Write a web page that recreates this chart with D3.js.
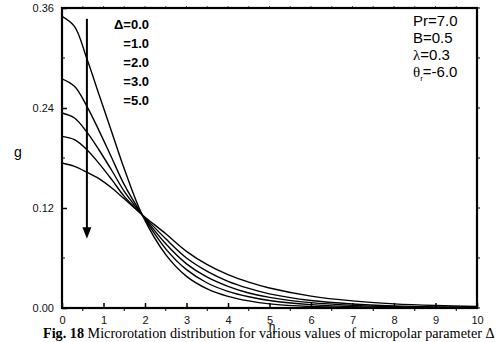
<!DOCTYPE html>
<html>
<head>
<meta charset="utf-8">
<script src="https://cdn.jsdelivr.net/npm/d3@7"></script>
<style>
  body { margin: 0; background: white; }
  svg { display: block; }
  text { font-family: Arial, "Liberation Sans", sans-serif; }
</style>
</head>
<body>
<div id="chart"></div>
<script>
// eta values
var eta = [0, 0.3, 0.6, 0.9, 1.2, 1.5, 1.93, 2.5, 3, 3.5, 4, 4.5, 5, 6, 7, 8, 9, 10];

// g for each Delta
var g_d0 = [0.350, 0.338, 0.299, 0.255, 0.211, 0.167, 0.112, 0.064, 0.038, 0.023, 0.014, 0.0085, 0.005, 0.0018, 0.0006, 0.0002, 0.0001, 0];
var g_d1 = [0.275, 0.266, 0.242, 0.212, 0.180, 0.148, 0.112, 0.071, 0.046, 0.030, 0.020, 0.0135, 0.009, 0.004, 0.0017, 0.0007, 0.0003, 0.0001];
var g_d2 = [0.234, 0.228, 0.211, 0.189, 0.165, 0.140, 0.112, 0.077, 0.053, 0.037, 0.026, 0.018, 0.0128, 0.0064, 0.0032, 0.0016, 0.0008, 0.0004];
var g_d3 = [0.206, 0.202, 0.190, 0.173, 0.154, 0.134, 0.112, 0.083, 0.060, 0.044, 0.032, 0.0235, 0.017, 0.009, 0.0048, 0.0025, 0.0013, 0.0007];
var g_d5 = [0.174, 0.170, 0.163, 0.155, 0.144, 0.131, 0.112, 0.089, 0.068, 0.052, 0.040, 0.031, 0.024, 0.0143, 0.0085, 0.005, 0.003, 0.0018];

var series = [g_d0, g_d1, g_d2, g_d3, g_d5];
var legend_labels = ["\u0394=0.0", "=1.0", "=2.0", "=3.0", "=5.0"];

var x_ticks = d3.range(0, 11);
var x_minor = d3.range(0.5, 10, 1);
var y_ticks = [0, 0.12, 0.24, 0.36];
var y_minor = [0.06, 0.18, 0.30];

var margin = {top: 8, right: 26, bottom: 34, left: 62};
var width = 415, height = 300;

var svg = d3.select("#chart")
  .append("svg")
  .attr("width", 503)
  .attr("height", 342)
  .style("background", "white");

var g = svg.append("g")
  .attr("transform", "translate(" + margin.left + "," + margin.top + ")");

var xscale = d3.scaleLinear().domain([0, 10]).range([0, width]);
var yscale = d3.scaleLinear().domain([0, 0.36]).range([height, 0]);

// bottom axis, major ticks pointing inside
var xAxis = g.append("g")
  .attr("transform", "translate(0," + height + ")")
  .call(d3.axisBottom(xscale).tickValues(x_ticks).tickSizeInner(-5).tickSizeOuter(0).tickPadding(8).tickFormat(d3.format("d")));
xAxis.select(".domain").remove();
xAxis.selectAll("line").attr("stroke-width", 1.5);
xAxis.selectAll("text").style("font-size", "11px").attr("fill", "#111");

g.append("g").selectAll("line")
  .data(x_minor).enter().append("line")
  .attr("x1", d => xscale(d)).attr("x2", d => xscale(d))
  .attr("y1", height).attr("y2", height + 3)
  .attr("stroke", "black");

// top axis minor marks
g.append("g").selectAll("line")
  .data(d3.range(0.5, 10, 0.5)).enter().append("line")
  .attr("x1", d => xscale(d)).attr("x2", d => xscale(d))
  .attr("y1", 0).attr("y2", -2)
  .attr("stroke", "#555");

// left axis
var yAxis = g.append("g")
  .call(d3.axisLeft(yscale).tickValues(y_ticks).tickSizeInner(-5).tickSizeOuter(0).tickPadding(8).tickFormat(d3.format(".2f")));
yAxis.select(".domain").remove();
yAxis.selectAll("line").attr("stroke-width", 1.5);
yAxis.selectAll("text").style("font-size", "11px").attr("fill", "#111");

g.append("g").selectAll("line")
  .data(y_minor).enter().append("line")
  .attr("x1", 0).attr("x2", 3)
  .attr("y1", d => yscale(d)).attr("y2", d => yscale(d))
  .attr("stroke", "black");

// right axis marks
g.append("g").selectAll("line")
  .data(y_minor.concat(y_ticks)).enter().append("line")
  .attr("x1", width).attr("x2", width + 3)
  .attr("y1", d => yscale(d)).attr("y2", d => yscale(d))
  .attr("stroke", "black");

// frame
g.append("rect")
  .attr("x", 0).attr("y", 0)
  .attr("width", width).attr("height", height)
  .attr("fill", "none")
  .attr("stroke", "black")
  .attr("stroke-width", 2.2);

// curves
var line = d3.line()
  .x((d, i) => xscale(eta[i]))
  .y(d => yscale(d))
  .curve(d3.curveCatmullRom.alpha(0.5));

g.selectAll(".curve")
  .data(series)
  .enter().append("path")
  .attr("class", "curve")
  .attr("d", line)
  .attr("fill", "none")
  .attr("stroke", "black")
  .attr("stroke-width", 1.4);

// arrow
var ax = xscale(0.6);
g.append("line")
  .attr("x1", ax).attr("x2", ax)
  .attr("y1", yscale(0.347)).attr("y2", yscale(0.094))
  .attr("stroke", "black")
  .attr("stroke-width", 2);
g.append("path")
  .attr("d", "M" + (ax - 4.5) + "," + yscale(0.097) + "L" + (ax + 4.5) + "," + yscale(0.097) + "L" + ax + "," + yscale(0.083) + "Z")
  .attr("fill", "black");

// legend
svg.append("g").selectAll("text")
  .data(legend_labels).enter().append("text")
  .attr("x", 149)
  .attr("y", (d, i) => 29 + i * 19)
  .attr("text-anchor", "end")
  .style("font-size", "13px")
  .style("font-weight", "bold")
  .text(d => d);

// parameters
var params = svg.append("g").style("font-size", "15px");
params.append("text").attr("x", 413).attr("y", 26).text("Pr=7.0");
params.append("text").attr("x", 413).attr("y", 43).text("B=0.5");
var lam = params.append("text").attr("x", 413).attr("y", 60);
lam.append("tspan").style("font-family", "'Liberation Serif', 'Times New Roman', serif").text("\u03bb");
lam.append("tspan").text("=0.3");
var th = params.append("text").attr("x", 413).attr("y", 77);
th.append("tspan").style("font-family", "'Liberation Serif', 'Times New Roman', serif").text("\u03b8");
th.append("tspan").attr("dy", 4).style("font-size", "8px").text("r");
th.append("tspan").attr("dy", -4).text("=-6.0");

// axis titles
svg.append("text")
  .attr("x", 18).attr("y", 157)
  .attr("text-anchor", "middle")
  .style("font-size", "14px")
  .text("g");

svg.append("text")
  .attr("x", 272).attr("y", 331)
  .attr("text-anchor", "middle")
  .style("font-size", "12px")
  .text("\u03b7");

// caption
var cap = svg.append("text")
  .attr("x", 43).attr("y", 338)
  .style("font-family", "'Liberation Serif', 'Times New Roman', serif")
  .style("font-size", "14.2px");
cap.append("tspan").style("font-weight", "bold").text("Fig. 18");
cap.append("tspan").text(" Microrotation distribution for various values of micropolar parameter \u0394");
</script>
</body>
</html>
